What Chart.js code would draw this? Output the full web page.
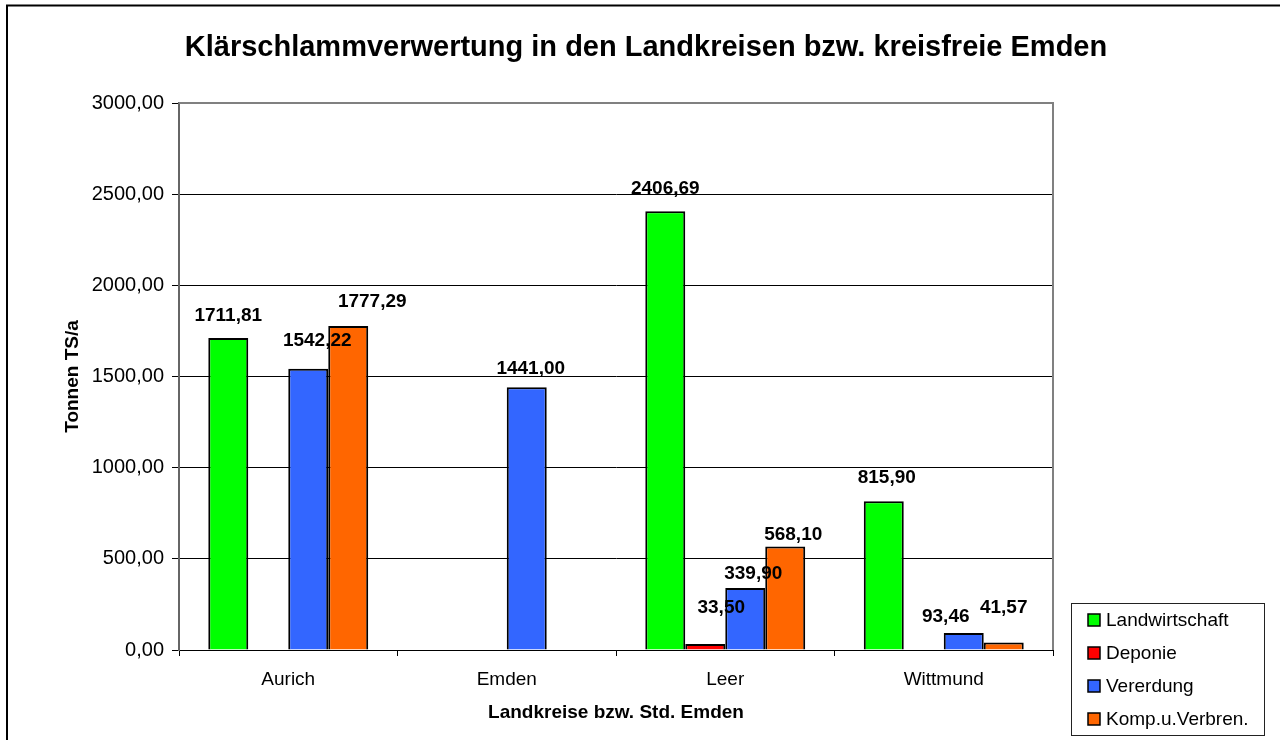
<!DOCTYPE html>
<html>
<head>
<meta charset="utf-8">
<script src="https://cdn.jsdelivr.net/npm/chart.js@4.4.1/dist/chart.umd.min.js"></script>
<style>
  html, body { margin: 0; padding: 0; background: #fff; overflow: hidden; }
  canvas { display: block; }
</style>
</head>
<body>
<canvas id="c" width="1280" height="740"></canvas>
<script>
// ---- data ----
const categories = ['Aurich', 'Emden', 'Leer', 'Wittmund'];
const landwirtschaft = [1711.81, null, 2406.69, 815.90];
const deponie = [null, null, 33.50, null];
const vererdung = [1542.22, 1441.00, 339.90, 93.46];
const kompVerbren = [1777.29, null, 568.10, 41.57];
const seriesNames = ['Landwirtschaft', 'Deponie', 'Vererdung', 'Komp.u.Verbren.'];
const yTicks = [0, 500, 1000, 1500, 2000, 2500, 3000];
const titleText = 'Klärschlammverwertung in den Landkreisen bzw. kreisfreie Emden';
const xTitleText = 'Landkreise bzw. Std. Emden';
const yTitleText = 'Tonnen TS/a';

// ---- styles ----
const FONT = '"Liberation Sans", Arial, Helvetica, sans-serif';
const colors = ['#00FF00', '#FF0000', '#3366FF', '#FF6600'];
// label nudges [dx, gap above bar top] (Excel-like placement)
const labelNudges = [
  [[0, 22], null, [0, 22], [3, 23]],
  [null, null, [16, 36], null],
  [[9, 28], [4, 18], [8, 14], [-18, 16]],
  [[24, 24], null, [8, 12], [0, 35]]
];

const fmt = v => v.toFixed(2).replace('.', ',');

const seriesData = [landwirtschaft, deponie, vererdung, kompVerbren];

const decor = {
  id: 'decor',
  beforeDraw(chart) {
    const ctx = chart.ctx;
    ctx.save();
    ctx.fillStyle = '#fff';
    ctx.fillRect(0, 0, chart.width, chart.height);
    ctx.strokeStyle = '#000';
    ctx.lineWidth = 2;
    ctx.strokeRect(7, 5.5, 1500, 1000);
    // title
    ctx.fillStyle = '#000';
    ctx.font = 'bold 29px ' + FONT;
    ctx.textAlign = 'center';
    ctx.textBaseline = 'alphabetic';
    ctx.fillText(titleText, 646, 56);
    ctx.restore();
  },
  beforeDatasetsDraw(chart) {
    const {ctx, chartArea: a} = chart;
    ctx.save();
    ctx.strokeStyle = '#808080';
    ctx.lineWidth = 2;
    ctx.beginPath();
    ctx.moveTo(a.left, a.top);
    ctx.lineTo(a.right, a.top);
    ctx.lineTo(a.right, a.bottom);
    ctx.stroke();
    ctx.restore();
  },
  afterDraw(chart) {
    const ctx = chart.ctx;
    ctx.save();
    // data labels
    ctx.fillStyle = '#000';
    ctx.font = 'bold 19px ' + FONT;
    ctx.textAlign = 'center';
    ctx.textBaseline = 'middle';
    chart.data.datasets.forEach((ds, di) => {
      const meta = chart.getDatasetMeta(di);
      ds.data.forEach((v, i) => {
        if (v === null || v === undefined) return;
        const el = meta.data[i];
        const n = labelNudges[di][i] || [0, 22];
        ctx.fillText(fmt(v), el.x + n[0], el.y - n[1]);
      });
    });
    // legend
    ctx.strokeStyle = '#222';
    ctx.lineWidth = 1;
    ctx.strokeRect(1071.5, 603.5, 193, 132);
    ctx.font = '19px ' + FONT;
    ctx.textAlign = 'left';
    seriesNames.forEach((name, i) => {
      const cy = 620 + i * 33;
      ctx.fillStyle = colors[i];
      ctx.fillRect(1088, cy - 6, 12, 12);
      ctx.strokeStyle = '#000';
      ctx.lineWidth = 1.5;
      ctx.strokeRect(1088, cy - 6, 12, 12);
      ctx.fillStyle = '#000';
      ctx.fillText(name, 1106, cy + 1);
    });
    ctx.restore();
  }
};

new Chart(document.getElementById('c'), {
  type: 'bar',
  data: {
    labels: categories,
    datasets: seriesNames.map((name, i) => ({
      label: name,
      data: seriesData[i],
      backgroundColor: colors[i],
      borderColor: '#000',
      borderWidth: 2,
      categoryPercentage: 0.732,
      barPercentage: 1.0
    }))
  },
  options: {
    responsive: false,
    animation: false,
    devicePixelRatio: 1,
    layout: { padding: { top: 103, right: 227, left: 0, bottom: 0 } },
    plugins: {
      legend: { display: false },
      title: { display: false },
      tooltip: { enabled: false }
    },
    scales: {
      x: {
        afterFit: s => { s.height = 90; },
        border: { display: true, color: '#000', width: 1 },
        grid: { display: true, drawOnChartArea: false, drawTicks: true, tickLength: 6, color: '#000', offset: true },
        ticks: { color: '#000', font: { family: FONT, size: 19 }, padding: 12 },
        title: { display: true, text: xTitleText, color: '#000', font: { family: FONT, size: 19, weight: 'bold' }, padding: { top: 0, bottom: 16 } }
      },
      y: {
        min: 0,
        max: 3000,
        afterFit: s => { s.width = 179; },
        afterBuildTicks: s => { s.ticks = yTicks.map(v => ({ value: v })); },
        border: { display: true, color: '#666', width: 2 },
        grid: {
          color: c => (c.tick && c.tick.value === 3000) ? 'rgba(0,0,0,0)' : '#000',
          tickColor: '#000',
          lineWidth: 1,
          drawTicks: true,
          tickLength: 7
        },
        ticks: { color: '#000', font: { family: FONT, size: 20 }, padding: 8, callback: v => fmt(v) },
        title: { display: true, text: yTitleText, color: '#000', font: { family: FONT, size: 19, weight: 'bold' }, padding: { top: 61, bottom: 0 } }
      }
    }
  },
  plugins: [decor]
});
</script>
</body>
</html>
